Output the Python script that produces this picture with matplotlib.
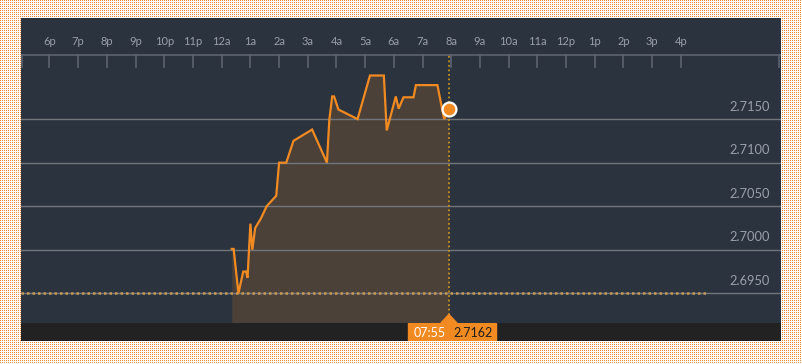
import numpy as np
import matplotlib
matplotlib.use("Agg")
import matplotlib.pyplot as plt
from matplotlib.patches import Rectangle, Polygon
import matplotlib.transforms as mtransforms

# intraday quote, times after midnight
times = ["00:21", "00:25", "00:35", "00:45", "00:51", "00:54", "01:00", "01:04",
         "01:10", "01:22", "01:34", "01:54", "02:00", "02:15", "02:30", "03:09",
         "03:40", "03:45", "03:51", "03:55", "04:04", "04:44", "05:10", "05:39",
         "05:45", "06:04", "06:10", "06:20", "06:41", "06:46", "07:31", "07:45",
         "07:50", "07:55"]
prices = [2.7001, 2.7001, 2.6950, 2.6975, 2.6975, 2.6968, 2.7030, 2.7000,
          2.7025, 2.7036, 2.7050, 2.7062, 2.7100, 2.7100, 2.7125, 2.7138,
          2.7100, 2.7149, 2.7176, 2.7176, 2.7161, 2.7150, 2.7200, 2.7200,
          2.7137, 2.7176, 2.7162, 2.7175, 2.7175, 2.7189, 2.7189, 2.7150,
          2.7155, 2.7162]
prev_close = 2.6951
hour_ticks = list(range(-6, 17))
hour_labels = ["6p", "7p", "8p", "9p", "10p", "11p", "12a", "1a", "2a", "3a", "4a",
               "5a", "6a", "7a", "8a", "9a", "10a", "11a", "12p", "1p", "2p", "3p", "4p"]
price_ticks = [2.6950, 2.7000, 2.7050, 2.7100, 2.7150]

t = np.array([int(s[:2]) + int(s[3:]) / 60 for s in times])
p = np.array(prices)

W, H = 802, 364
fig = plt.figure(figsize=(W / 100, H / 100), dpi=100)
fig.patch.set_facecolor("white")

# dotted orange backdrop
bg = np.ones((H, W, 3))
yy, xx = np.mgrid[0:H, 0:W]
dots = (yy % 2 == 0) & (xx % 2 == 0)
bg[dots] = np.array([238, 140, 60]) / 255
fig.figimage(bg, xo=0, yo=0, origin="upper", zorder=-10)

x0, x1 = -6.993, 19.488
ylo, yhi = 2.6916, 2.7266
line_c = "#f28a22"
txt_c = "#9aa0a8"

ax = fig.add_axes([21 / W, (H - 323) / H, 760 / W, 305 / H])
ax.set_facecolor("#2a333e")
ax.set_xlim(x0, x1)
ax.set_ylim(ylo, yhi)
for s in ax.spines.values():
    s.set_visible(False)
ax.set_xticks([])
ax.set_yticks([])

# grid + price labels
for v in price_ticks:
    ax.axhline(v, color="#72767c", lw=1, zorder=2)
    ax.annotate(f"{v:.4f}", xy=(0.9855, v), xycoords=("axes fraction", "data"),
                xytext=(0, 9), textcoords="offset points", ha="right", va="center",
                color=txt_c, fontsize=9.3, family="Lato")

# time header
trans = mtransforms.blended_transform_factory(ax.transData, ax.transAxes)
ax.axhline(yhi - (yhi - ylo) * (1 - 0.8787), color="#5d6470", lw=1.2, zorder=2)
for h, lab in zip(hour_ticks, hour_labels):
    ax.plot([h, h], [0.8787, 0.839], transform=trans, color="#5d6470", lw=1.2)
    ax.text(h, 0.9223, lab, transform=trans, ha="center", va="center",
            color=txt_c, fontsize=8, family="Lato")
for h in [x0 + 0.04, x1 - 0.07]:
    ax.plot([h, h], [0.8787, 0.839], transform=trans, color="#5d6470", lw=1.2)

# price area
ax.fill_between(t, p, ylo, color="#4b4139", zorder=1, lw=0)
ax.plot(t, p, color=line_c, lw=1.6, zorder=4, solid_joinstyle="miter")
ax.hlines(prev_close, x0, 16.9, color="#c99a55", lw=1.8, linestyles=(0, (1, 1.2)), zorder=3)
ax.plot([t[-1], t[-1]], [0.026, 0.8787], transform=trans, color="#c8901e", lw=1.3,
        ls=(0, (1, 1.5)), zorder=3)
ax.plot(t[-1], p[-1], "o", ms=10, mfc=line_c, mec="white", mew=1.6, zorder=5)

# pointer
ax.add_patch(Polygon([[t[-1] - 0.28, 0], [t[-1], 0.028], [t[-1] + 0.28, 0]],
                     closed=True, transform=trans, color=line_c, clip_on=False, zorder=6))

# bottom strip with current-value tag
ax2 = fig.add_axes([21 / W, (H - 341) / H, 760 / W, 18 / H])
ax2.set_facecolor("#222222")
ax2.set_xlim(x0, x1)
ax2.set_ylim(0, 1)
ax2.axis("off")
ax2.add_patch(Rectangle((0, 0), 1, 1, transform=ax2.transAxes, color="#222222", zorder=0))
ax2.add_patch(Rectangle((t[-1] - 40.5 / 28.7, 0), 88 / 28.7, 1, color=line_c, zorder=1))
ax2.text(t[-1] - 0.1, 0.45, times[-1], ha="right", va="center", color="white",
         fontsize=9, family="Lato", zorder=2)
ax2.text(t[-1] + 0.15, 0.45, f"{p[-1]:.4f}", ha="left", va="center", color="#1e1e1e",
         fontsize=9, family="Lato", zorder=2)

fig.savefig("out.png", dpi=100)
